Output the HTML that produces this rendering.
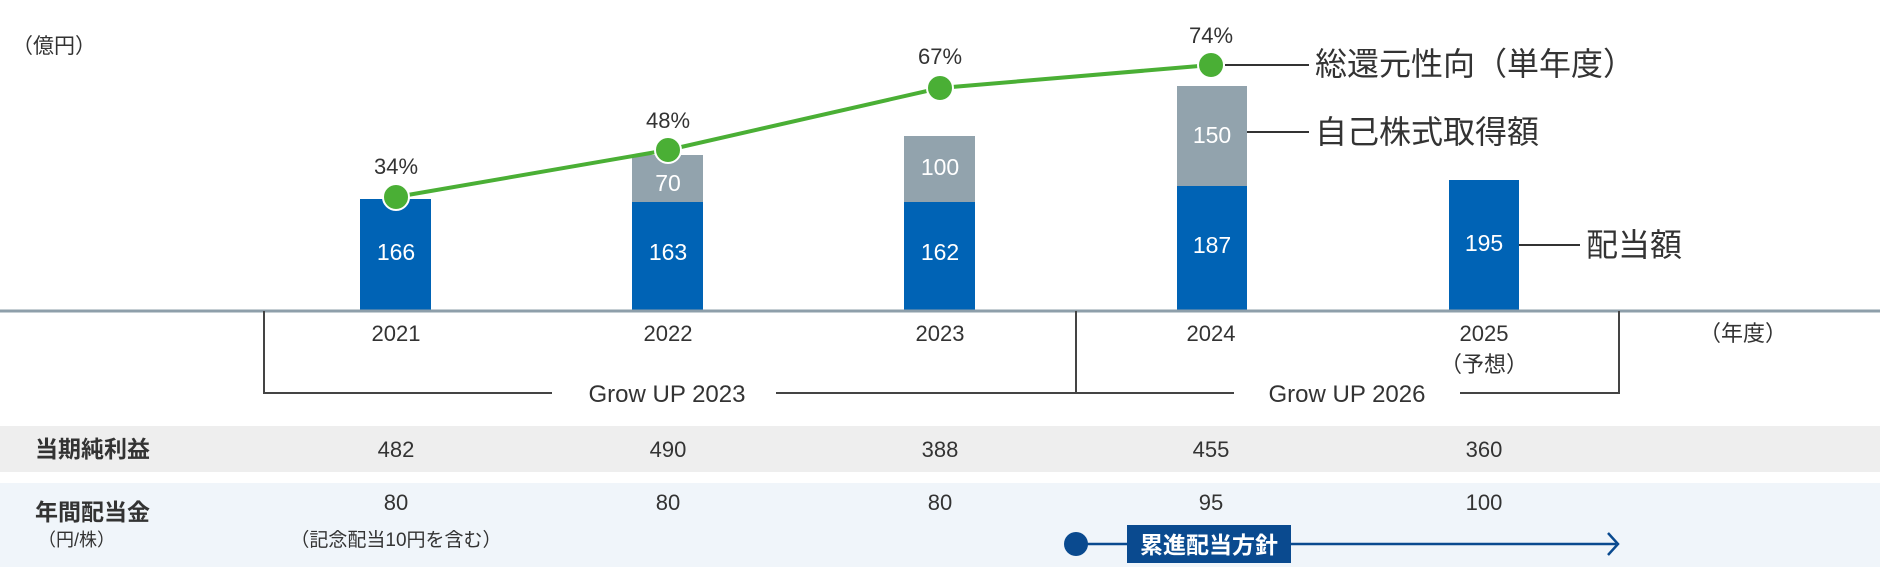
<!DOCTYPE html>
<html><head><meta charset="utf-8"><style>
html,body{margin:0;padding:0;background:#fff;}
svg{display:block;font-family:"Liberation Sans","Noto Sans CJK JP",sans-serif;}
</style></head><body>
<svg width="1880" height="570" viewBox="0 0 1880 570" xmlns="http://www.w3.org/2000/svg">
<rect x="0" y="426" width="1880" height="46" fill="#eeeeee"/>
<rect x="0" y="483" width="1880" height="84" fill="#f0f5fa"/>
<text x="12" y="53" font-size="21" fill="#333">（億円）</text>
<g fill="#0063b5">
<rect x="360" y="199" width="71" height="111"/>
<rect x="632" y="202" width="71" height="108"/>
<rect x="904" y="202" width="71" height="108"/>
<rect x="1177" y="186" width="70" height="124"/>
<rect x="1449" y="180" width="70" height="130"/>
</g>
<g fill="#92a3ad">
<rect x="632" y="155" width="71" height="47"/>
<rect x="904" y="136" width="71" height="66"/>
<rect x="1177" y="86" width="70" height="100"/>
</g>
<g fill="#fff" font-size="23" text-anchor="middle">
<text x="396" y="260">166</text>
<text x="668" y="260">163</text>
<text x="940" y="260">162</text>
<text x="1212" y="253">187</text>
<text x="1484" y="251">195</text>
<text x="668" y="191">70</text>
<text x="940" y="175">100</text>
<text x="1212" y="143">150</text>
</g>
<line x1="0" y1="311" x2="1880" y2="311" stroke="#8e9faa" stroke-width="3"/>
<polyline points="396,197 668,150 940,88 1211,65" fill="none" stroke="#4aaf35" stroke-width="4"/>
<g fill="#4aaf35" stroke="#fff" stroke-width="2">
<circle cx="396" cy="197" r="13"/><circle cx="668" cy="150" r="13"/><circle cx="940" cy="88" r="13"/><circle cx="1211" cy="65" r="13"/>
</g>
<g font-size="22" fill="#333" text-anchor="middle">
<text x="396" y="174">34%</text>
<text x="668" y="128">48%</text>
<text x="940" y="64">67%</text>
<text x="1211" y="43">74%</text>
</g>
<g stroke="#333" stroke-width="2">
<line x1="1225" y1="65" x2="1309" y2="65"/>
<line x1="1247" y1="132" x2="1309" y2="132"/>
<line x1="1519" y1="245" x2="1580" y2="245"/>
</g>
<g font-size="32" fill="#333">
<text x="1315" y="75">総還元性向（単年度）</text>
<text x="1315" y="143">自己株式取得額</text>
<text x="1586" y="256">配当額</text>
</g>
<g font-size="22" fill="#333" text-anchor="middle">
<text x="396" y="341">2021</text>
<text x="668" y="341">2022</text>
<text x="940" y="341">2023</text>
<text x="1211" y="341">2024</text>
<text x="1484" y="341">2025</text>
<text x="1484" y="372">（予想）</text>
<text x="1743" y="341">（年度）</text>
</g>
<g stroke="#444" stroke-width="2" fill="none">
<polyline points="264,311 264,393 552,393"/>
<line x1="776" y1="393" x2="1234" y2="393"/>
<line x1="1076" y1="311" x2="1076" y2="393"/>
<polyline points="1460,393 1619,393 1619,311"/>
</g>
<g font-size="24" fill="#333" text-anchor="middle">
<text x="667" y="402">Grow UP 2023</text>
<text x="1347" y="402">Grow UP 2026</text>
</g>
<g font-size="23" fill="#333" font-weight="bold">
<text x="35" y="457">当期純利益</text>
<text x="35" y="520">年間配当金</text>
</g>
<text x="38" y="546" font-size="18" fill="#333">（円/株）</text>
<g font-size="22" fill="#333" text-anchor="middle">
<text x="396" y="457">482</text><text x="668" y="457">490</text><text x="940" y="457">388</text><text x="1211" y="457">455</text><text x="1484" y="457">360</text>
<text x="396" y="510">80</text><text x="668" y="510">80</text><text x="940" y="510">80</text><text x="1211" y="510">95</text><text x="1484" y="510">100</text>
<text x="396" y="546" font-size="19">（記念配当10円を含む）</text>
</g>
<line x1="1075" y1="544" x2="1616" y2="544" stroke="#0a4a8f" stroke-width="2.5"/>
<polyline points="1608,533 1618,544 1608,555" fill="none" stroke="#0a4a8f" stroke-width="2.5"/>
<circle cx="1076" cy="544" r="12" fill="#0a4a8f"/>
<rect x="1127" y="525" width="164" height="38" fill="#0a4a8f"/>
<text x="1209" y="553" font-size="23" font-weight="bold" fill="#fff" text-anchor="middle">累進配当方針</text>
</svg>
</body></html>
